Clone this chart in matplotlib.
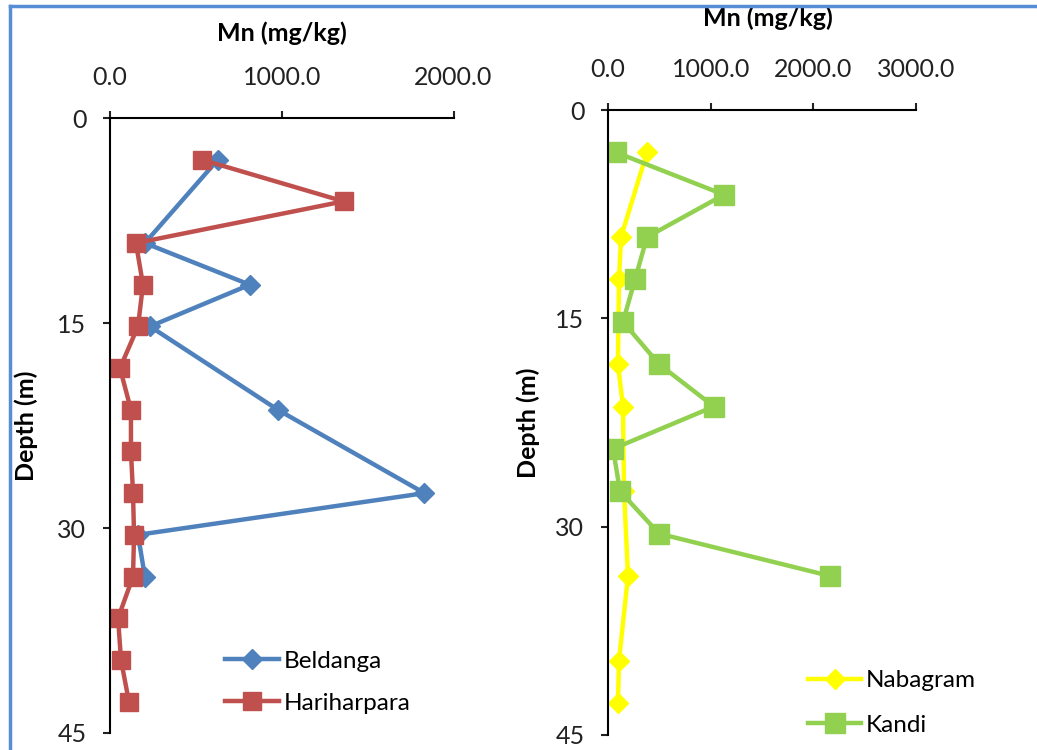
import matplotlib
matplotlib.use("Agg")
import matplotlib.pyplot as plt
from matplotlib.lines import Line2D
from matplotlib.ticker import FormatStrFormatter

plt.rcParams['font.family'] = ['Lato', 'DejaVu Sans']

# depth in m, Mn in mg/kg
beldanga_depth = [3.05, 9.15, 12.2, 15.25, 21.35, 27.45, 30.5, 33.55]
beldanga_mn = [628, 203, 814, 233, 977, 1831, 163, 203]

hari_depth = [3.05, 6.1, 9.15, 12.2, 15.25, 18.3, 21.35, 24.4, 27.45, 30.5,
              33.55, 36.6, 39.65, 42.7]
hari_mn = [535, 1360, 151, 192, 163, 58, 122, 122, 134, 140, 134, 47, 64, 110]

naba_depth = [3.05, 9.15, 12.2, 18.3, 21.35, 27.45, 33.55, 39.65, 42.7]
naba_mn = [380, 127, 107, 97, 146, 156, 195, 107, 97]

kandi_depth = [3.05, 6.1, 9.15, 12.2, 15.25, 18.3, 21.35, 24.4, 27.45, 30.5, 33.55]
kandi_mn = [78, 1130, 380, 263, 146, 497, 1032, 49, 117, 497, 2162]

depth_ticks = [0, 15, 30, 45]
left_xticks = [0, 1000, 2000]
right_xticks = [0, 1000, 2000, 3000]

W, H = 1037, 750
fig = plt.figure(figsize=(W / 100, H / 100), dpi=100)


def px_axes(x0, x1, y0, y1):
    return fig.add_axes([x0 / W, 1 - y1 / H, (x1 - x0) / W, (y1 - y0) / H])


def style(ax, xmax, xticks, lab_x, lab_y, dep_x):
    ax.set_xlim(0, xmax)
    ax.set_ylim(45, 0)
    ax.set_xticks(xticks)
    ax.set_yticks(depth_ticks)
    ax.xaxis.set_major_formatter(FormatStrFormatter('%.1f'))
    ax.xaxis.tick_top()
    ax.xaxis.set_label_position('top')
    for s in ['right', 'bottom']:
        ax.spines[s].set_visible(False)
    for s in ['left', 'top']:
        ax.spines[s].set_linewidth(1.5)
    ax.tick_params(axis='x', direction='out', length=5, width=1.5, pad=16,
                   labelsize=18, colors='#222222')
    ax.tick_params(axis='y', direction='out', length=5, width=1.5, pad=12,
                   labelsize=18, colors='#222222')
    ax.set_xlabel('Mn (mg/kg)', fontsize=18, fontweight='bold')
    ax.set_ylabel('Depth (m)', fontsize=18, fontweight='bold')
    ax.xaxis.set_label_coords(lab_x, lab_y)
    ax.yaxis.set_label_coords(dep_x, 0.5)
    ax.patch.set_alpha(0)


# left panel
ax1 = px_axes(110, 453.5, 118, 733)
ax1.plot(beldanga_mn, beldanga_depth, color='#4F81BD', lw=3.2, marker='D',
         ms=10, label='Beldanga')
ax1.plot(hari_mn, hari_depth, color='#C0504D', lw=3.2, marker='s',
         ms=13, label='Hariharpara')
style(ax1, 2000, left_xticks, 0.5, 1.125, -0.21)
ax1.legend(loc='upper left', bbox_to_anchor=(0.335, 0.134), frameon=False,
           fontsize=17.5, handlelength=2.2, handletextpad=0.2, labelspacing=0.86,
           borderpad=0, borderaxespad=0)

# right panel
ax2 = px_axes(608, 916, 110, 735)
ax2.plot(naba_mn, naba_depth, color='#FFFF00', lw=3.2, marker='D',
         ms=10, label='Nabagram')
ax2.plot(kandi_mn, kandi_depth, color='#92D050', lw=3.2, marker='s',
         ms=14, label='Kandi')
style(ax2, 3000, right_xticks, 0.52, 1.135, -0.22)
ax2.legend(loc='upper left', bbox_to_anchor=(0.649, 0.104), frameon=False,
           fontsize=17.5, handlelength=2.2, handletextpad=0.2, labelspacing=0.98,
           borderpad=0, borderaxespad=0)

# blue frame lines (left and top)
frame_col = '#558ED5'
fig.add_artist(Line2D([10 / W, 10 / W], [0, 1 - 5.5 / H], color=frame_col,
                      lw=2.5, transform=fig.transFigure))
fig.add_artist(Line2D([10 / W, 1], [1 - 5.5 / H, 1 - 5.5 / H], color=frame_col,
                      lw=2.5, transform=fig.transFigure))

fig.savefig('out.png', dpi=100)
